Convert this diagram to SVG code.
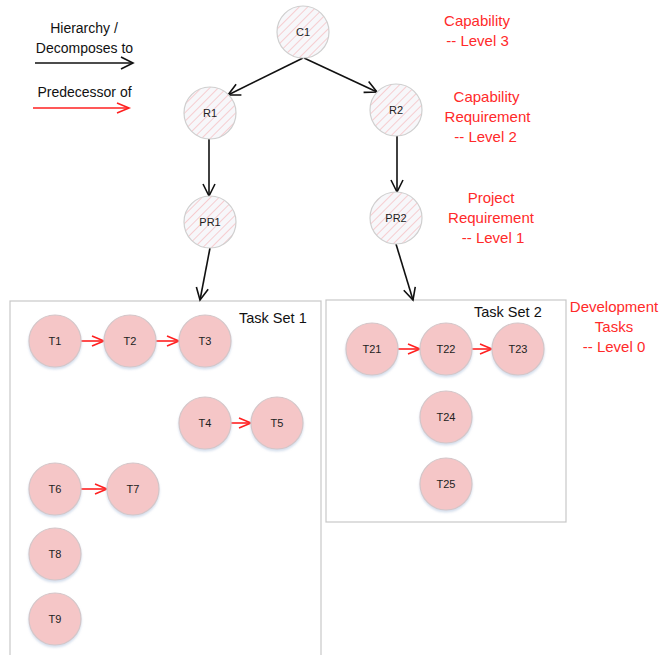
<svg xmlns="http://www.w3.org/2000/svg" width="661" height="655" viewBox="0 0 661 655">
<style>
.hatch{fill:url(#hp);stroke:#cfcfcf;stroke-width:1.2}
.task{fill:#f5c6c7;stroke:#d4c6c8;stroke-width:1.2;filter:url(#sh)}
.nl{font-family:"Liberation Sans",Arial,sans-serif;font-size:11px;fill:#222;text-anchor:middle}
.lvl{font-family:"Liberation Sans",Arial,sans-serif;font-size:15px;fill:#ff2a2a;text-anchor:middle}
.leg{font-family:"Liberation Sans",Arial,sans-serif;font-size:14px;fill:#111;text-anchor:middle}
.ts{font-family:"Liberation Sans",Arial,sans-serif;font-size:14.5px;fill:#111}
.box{fill:#fff;stroke:#c8c8c8;stroke-width:1.2}
.blk{stroke:#111;stroke-width:1.6;fill:none;marker-end:url(#ab)}
.red{stroke:#ff2020;stroke-width:1.6;fill:none;marker-end:url(#ar)}
</style>
<defs>
<pattern id="hp" patternUnits="userSpaceOnUse" width="6" height="6" patternTransform="rotate(45)">
<rect width="6" height="6" fill="#f7f7fa"/>
<line x1="0" y1="0" x2="0" y2="6" stroke="#f6c3c6" stroke-width="1.6"/>
</pattern>
<filter id="sh" x="-20%" y="-20%" width="140%" height="150%">
<feDropShadow dx="0" dy="2" stdDeviation="1.2" flood-color="#b9c9e0" flood-opacity="0.6"/>
</filter>
<marker id="ab" markerUnits="userSpaceOnUse" markerWidth="14" markerHeight="14" refX="12" refY="6" orient="auto" overflow="visible">
<path d="M0,0 L12,6 L0,12" fill="none" stroke="#111" stroke-width="1.6"/>
</marker>
<marker id="ar" markerUnits="userSpaceOnUse" markerWidth="14" markerHeight="14" refX="12" refY="5" orient="auto" overflow="visible">
<path d="M0,0 L12,5 L0,10" fill="none" stroke="#ff2020" stroke-width="1.6"/>
</marker>
</defs>
<rect width="661" height="655" fill="#fff"/>

<g id="taskset1"><rect class="box" x="10" y="301" width="311" height="360"/><text class="ts" x="239" y="323">Task Set 1</text></g>
<g id="taskset2"><rect class="box" x="326" y="300" width="240" height="222"/><text class="ts" x="474" y="317">Task Set 2</text></g>

<g id="legend">
<text class="leg" x="84" y="33">Hierarchy /</text>
<text class="leg" x="84.5" y="53">Decomposes to</text>
<text class="leg" x="84.5" y="97">Predecessor of</text>
</g>

<g id="levels">
<text class="lvl" x="477" y="26">Capability</text>
<text class="lvl" x="477.5" y="46">-- Level 3</text>
<text class="lvl" x="486.5" y="102">Capability</text>
<text class="lvl" x="487.5" y="122">Requirement</text>
<text class="lvl" x="485.5" y="142">-- Level 2</text>
<text class="lvl" x="491" y="203">Project</text>
<text class="lvl" x="491" y="223">Requirement</text>
<text class="lvl" x="493" y="243">-- Level 1</text>
<text class="lvl" x="614" y="312">Development</text>
<text class="lvl" x="614" y="332">Tasks</text>
<text class="lvl" x="614" y="352">-- Level 0</text>
</g>

<g id="connectors">
<line class="blk" x1="35" y1="63" x2="133" y2="63"/>
<line class="red" x1="33" y1="108" x2="129" y2="108"/>
<line class="blk" x1="303" y1="58" x2="228" y2="95"/>
<line class="blk" x1="304" y1="58" x2="377" y2="92"/>
<line class="blk" x1="209" y1="139" x2="209" y2="196"/>
<line class="blk" x1="397" y1="136" x2="397" y2="192"/>
<line class="blk" x1="210" y1="248" x2="200" y2="300"/>
<line class="blk" x1="396" y1="244" x2="413" y2="300"/>
<line class="red" x1="81" y1="341" x2="104" y2="341"/>
<line class="red" x1="156" y1="341" x2="179" y2="341"/>
<line class="red" x1="231" y1="423" x2="251" y2="423"/>
<line class="red" x1="81" y1="489" x2="107" y2="489"/>
<line class="red" x1="398" y1="349" x2="420" y2="349"/>
<line class="red" x1="472" y1="349" x2="492" y2="349"/>
</g>

<g id="C1"><circle class="hatch" cx="303" cy="32" r="26"/><text class="nl" x="303" y="36">C1</text></g>
<g id="R1"><circle class="hatch" cx="210" cy="113" r="26"/><text class="nl" x="210" y="117">R1</text></g>
<g id="R2"><circle class="hatch" cx="396" cy="110" r="26"/><text class="nl" x="396" y="114">R2</text></g>
<g id="PR1"><circle class="hatch" cx="210" cy="222" r="26"/><text class="nl" x="210" y="226">PR1</text></g>
<g id="PR2"><circle class="hatch" cx="396" cy="218" r="26"/><text class="nl" x="396" y="222">PR2</text></g>

<g id="T1"><circle class="task" cx="55" cy="341" r="26"/><text class="nl" x="55" y="345">T1</text></g>
<g id="T2"><circle class="task" cx="130" cy="341" r="26"/><text class="nl" x="130" y="345">T2</text></g>
<g id="T3"><circle class="task" cx="205" cy="341" r="26"/><text class="nl" x="205" y="345">T3</text></g>
<g id="T4"><circle class="task" cx="205" cy="423" r="26"/><text class="nl" x="205" y="427">T4</text></g>
<g id="T5"><circle class="task" cx="277" cy="423" r="26"/><text class="nl" x="277" y="427">T5</text></g>
<g id="T6"><circle class="task" cx="55" cy="489" r="26"/><text class="nl" x="55" y="493">T6</text></g>
<g id="T7"><circle class="task" cx="133" cy="489" r="26"/><text class="nl" x="133" y="493">T7</text></g>
<g id="T8"><circle class="task" cx="55" cy="554" r="26"/><text class="nl" x="55" y="558">T8</text></g>
<g id="T9"><circle class="task" cx="55" cy="619" r="26"/><text class="nl" x="55" y="623">T9</text></g>

<g id="T21"><circle class="task" cx="372" cy="349" r="26"/><text class="nl" x="372" y="353">T21</text></g>
<g id="T22"><circle class="task" cx="446" cy="349" r="26"/><text class="nl" x="446" y="353">T22</text></g>
<g id="T23"><circle class="task" cx="518" cy="349" r="26"/><text class="nl" x="518" y="353">T23</text></g>
<g id="T24"><circle class="task" cx="446" cy="417" r="26"/><text class="nl" x="446" y="421">T24</text></g>
<g id="T25"><circle class="task" cx="446" cy="484" r="26"/><text class="nl" x="446" y="488">T25</text></g>
</svg>
